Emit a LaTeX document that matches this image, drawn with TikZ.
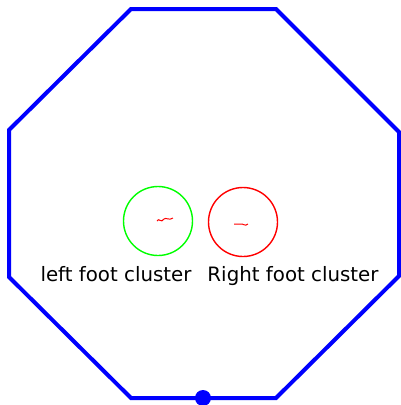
\documentclass[tikz,border=0pt]{standalone}
\usepackage{fontspec}
\setmainfont{DejaVu Sans}
\usetikzlibrary{positioning}

\begin{document}
\begin{tikzpicture}[x=1pt,y=-1pt,
    wall/.style={draw=blue,line width=4pt,line join=miter},
    cluster/.style={circle,draw,line width=1.4pt,minimum size=69pt,inner sep=0pt},
    clabel/.style={font=\fontsize{19.8}{22}\selectfont,text=black,anchor=base,inner sep=0pt},
    wiggle/.style={draw=red,line width=1pt}]
  \useasboundingbox (0,0) rectangle (401,405);
  % 八角形の外枠
  \draw[wall] (131,9) -- (276,9) -- (399,132) -- (399,276) -- (276,398)
    -- (131,398) -- (9,277) -- (9,130) -- cycle;
  % 下辺の点
  \fill[blue] (203,398) circle (8pt);
  % 左右の足のクラスタ
  \node[cluster,draw=green] (leftfoot) at (158,221) {};
  \node[cluster,draw=red] (rightfoot) at (243,222) {};
  % クラスタ内の小さな波線
  \draw[wiggle] (157,221) .. controls (159,217) and (161,224) .. (164,219)
    .. controls (166,217) and (169,221) .. (173,218);
  \draw[wiggle] (234,224) -- (240,224) .. controls (243,223) and (245,227) .. (248,224);
  % ラベル
  \node[clabel] (leftlabel) at (116,281) {left foot cluster};
  \node[clabel] (rightlabel) at (293,281) {Right foot cluster};
\end{tikzpicture}
\end{document}
